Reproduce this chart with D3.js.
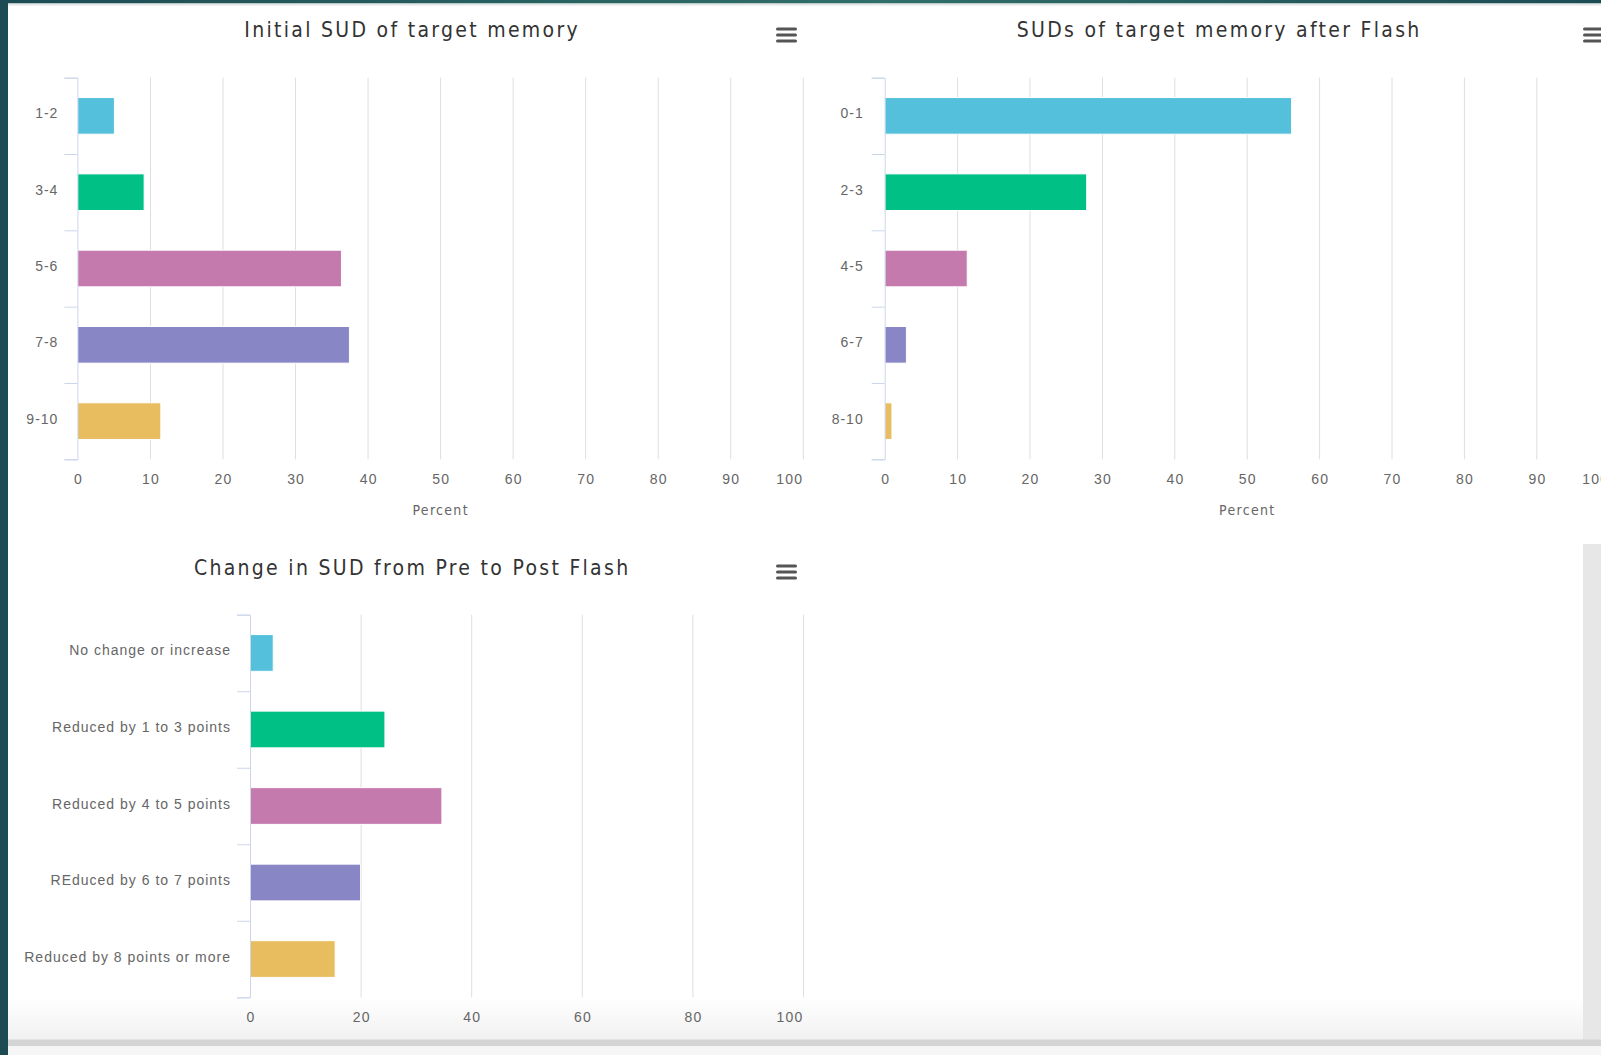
<!DOCTYPE html>
<html>
<head>
<meta charset="utf-8">
<script src="https://cdnjs.cloudflare.com/ajax/libs/d3/7.8.5/d3.min.js"></script>
<style>
  html, body { margin: 0; padding: 0; background: #fff; overflow: hidden; }
  svg { display: block; font-family: "DejaVu Sans Condensed", "DejaVu Sans", sans-serif; font-stretch: condensed; }
</style>
</head>
<body>
<div id="chart"></div>
<script>
// Chart data
var colors = ["#54c0db", "#00c086", "#c57aae", "#8986c5", "#e7bd5f"];

var initialCats = ["1-2", "3-4", "5-6", "7-8", "9-10"];
var initialVals = [5.1, 9.2, 36.4, 37.5, 11.5];

var afterCats = ["0-1", "2-3", "4-5", "6-7", "8-10"];
var afterVals = [56.2, 27.9, 11.4, 3.0, 1.0];

var changeCats = ["No change or increase", "Reduced by 1 to 3 points", "Reduced by 4 to 5 points",
                  "REduced by 6 to 7 points", "Reduced by 8 points or more"];
var changeVals = [4.2, 24.4, 34.7, 20.0, 15.4];

var tenTicks = [0, 10, 20, 30, 40, 50, 60, 70, 80, 90, 100];
var twentyTicks = [0, 20, 40, 60, 80, 100];

var W = 1601, H = 1055;

var svg = d3.select("#chart")
    .append("svg")
    .attr("width", W)
    .attr("height", H);

// page chrome around the charts
var defs = svg.append("defs");
var topGrad = defs.append("linearGradient").attr("id", "topGrad");
topGrad.append("stop").attr("offset", "0%").attr("stop-color", "#1d4b54");
topGrad.append("stop").attr("offset", "55%").attr("stop-color", "#306f69");
topGrad.append("stop").attr("offset", "100%").attr("stop-color", "#1d4b54");
var botGrad = defs.append("linearGradient").attr("id", "botGrad")
    .attr("x1", 0).attr("y1", 0).attr("x2", 0).attr("y2", 1);
botGrad.append("stop").attr("offset", "0%").attr("stop-color", "#ffffff");
botGrad.append("stop").attr("offset", "100%").attr("stop-color", "#f1f1f1");

svg.append("rect").attr("x", 0).attr("y", 997).attr("width", W).attr("height", 43).attr("fill", "url(#botGrad)");
svg.append("rect").attr("x", 1583).attr("y", 544).attr("width", 18).attr("height", 496).attr("fill", "#e7e7e7");
svg.append("rect").attr("x", 0).attr("y", 1039.5).attr("width", W).attr("height", 6.5).attr("fill", "#d4d4d4");
svg.append("rect").attr("x", 0).attr("y", 1046).attr("width", W).attr("height", 9).attr("fill", "#f6f6f6");
svg.append("rect").attr("x", 0).attr("y", 0).attr("width", W).attr("height", 3.5).attr("fill", "url(#topGrad)");
svg.append("rect").attr("x", 8).attr("y", 3.5).attr("width", W).attr("height", 2).attr("fill", "#e2e6e6");
svg.append("rect").attr("x", 0).attr("y", 0).attr("width", 8).attr("height", H).attr("fill", "#1d4b54");

function drawChart(o) {
    var g = svg.append("g").attr("transform", "translate(" + o.left + "," + o.top + ")");

    var x = d3.scaleLinear().domain([0, 100]).range([0, o.width]);
    var y = d3.scaleBand().domain(o.cats).range([0, o.height]);
    var yEdge = d3.scaleLinear().domain([0, o.cats.length]).range([0, o.height]);

    // vertical gridlines
    g.append("g")
        .attr("transform", "translate(0," + o.height + ")")
        .call(d3.axisBottom(x).tickValues(o.ticks.slice(1)).tickSize(o.height).tickFormat(""))
        .call(s => s.select(".domain").remove())
        .call(s => s.selectAll(".tick line").attr("stroke", "#dedede").attr("transform", "translate(0," + (-o.height) + ")"));

    // x tick labels (last one justified inside the plot edge)
    g.append("g")
        .attr("transform", "translate(0," + o.height + ")")
        .call(d3.axisBottom(x).tickValues(o.ticks).tickSize(0).tickPadding(15))
        .call(s => s.select(".domain").remove())
        .call(s => s.selectAll("text")
            .attr("fill", "#666").attr("font-size", 14).attr("font-family", null)
            .attr("letter-spacing", 1.2)
            .attr("text-anchor", d => d === 100 ? "end" : "middle")
            .attr("dx", d => d === 100 ? 0 : 0.6));

    // bars
    g.selectAll("rect.bar")
        .data(o.vals)
        .enter()
        .append("rect")
        .attr("class", "bar")
        .attr("x", x(0))
        .attr("y", (d, i) => y(o.cats[i]) + y.bandwidth() * 0.26)
        .attr("width", d => x(d) - x(0))
        .attr("height", y.bandwidth() * 0.48)
        .attr("fill", (d, i) => colors[i])
        .attr("stroke", "#fff")
        .attr("stroke-width", 1);

    // category axis: boundary ticks + labels
    g.append("g")
        .call(d3.axisLeft(yEdge).tickValues(d3.range(o.cats.length + 1)).tickSize(13).tickFormat(""))
        .call(s => s.selectAll("path, line").attr("stroke", "#ccd6eb"));
    g.append("g")
        .call(d3.axisLeft(y).tickSize(0).tickPadding(o.labelPad - 1))
        .call(s => s.select(".domain").remove())
        .call(s => s.selectAll("text")
            .attr("fill", "#666").attr("font-size", 14).attr("font-family", null)
            .attr("letter-spacing", 1).attr("dy", "0.18em"));

    // title
    g.append("text")
        .attr("x", o.titleX - o.left + 1.15)
        .attr("y", o.titleY - o.top)
        .attr("text-anchor", "middle")
        .attr("dominant-baseline", "central")
        .attr("fill", "#333")
        .attr("font-size", 21)
        .attr("letter-spacing", 2.3)
        .text(o.title);

    if (o.xTitle) {
        g.append("text")
            .attr("x", o.width / 2 + 0.6)
            .attr("y", o.height + 50.5)
            .attr("text-anchor", "middle")
            .attr("dominant-baseline", "central")
            .attr("fill", "#666")
            .attr("font-size", 14)
            .attr("letter-spacing", 1.3)
            .text(o.xTitle);
    }

    // context menu icon
    var menu = svg.append("g").attr("transform", "translate(" + o.menuX + "," + o.menuY + ")");
    [0, 6, 12].forEach(function (dy) {
        menu.append("line")
            .attr("x1", 1.5).attr("x2", 19.5)
            .attr("y1", dy).attr("y2", dy)
            .attr("stroke", "#555").attr("stroke-width", 3).attr("stroke-linecap", "round");
    });
}

drawChart({
    title: "Initial SUD of target memory", titleX: 411, titleY: 30,
    cats: initialCats, vals: initialVals, ticks: tenTicks, xTitle: "Percent",
    left: 77.4, top: 77.7, width: 725.4, height: 381.6, labelPad: 20,
    menuX: 776, menuY: 29
});

drawChart({
    title: "SUDs of target memory after Flash", titleX: 1218, titleY: 30,
    cats: afterCats, vals: afterVals, ticks: tenTicks, xTitle: "Percent",
    left: 884.7, top: 77.7, width: 724, height: 381.6, labelPad: 22,
    menuX: 1583, menuY: 29
});

drawChart({
    title: "Change in SUD from Pre to Post Flash", titleX: 411, titleY: 567.7,
    cats: changeCats, vals: changeVals, ticks: twentyTicks, xTitle: null,
    left: 250, top: 614.7, width: 553, height: 382.6, labelPad: 20,
    menuX: 776, menuY: 566
});
</script>
</body>
</html>
